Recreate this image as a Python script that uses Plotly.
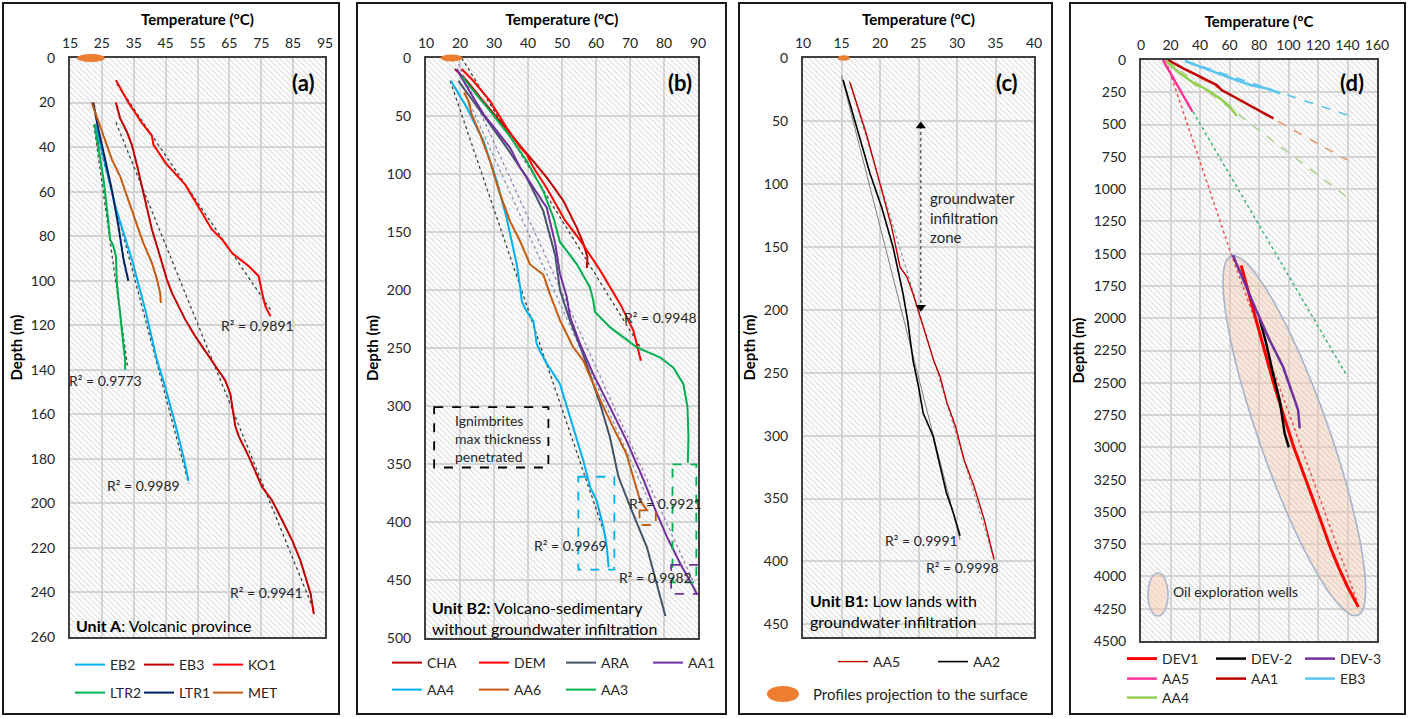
import numpy as np
import plotly.graph_objects as go

W, H = 1408, 719
FONT = "Lato"
TXT = "#262626"


def px(x):
    return x / W


def py(y):
    return 1 - y / H


# ---------------- DATA ----------------
# Panel (a) Unit A : temperature (degC) vs depth (m)
a_EB2_T = [23.0, 26.0, 29.2, 34.4, 38.6, 42.3, 44.9, 48.0, 50.6, 52.2]
a_EB2_D = [30, 48, 66.5, 90.5, 113, 135.8, 147.8, 164.3, 179, 190]
a_EB3_T = [29.4, 30.7, 32.8, 34.4, 36.0, 37.5, 39.1, 40.7, 42.3, 43.8, 45.4, 47.0, 49.0, 51.2, 54.3, 58.0,
           59.5, 63.7, 65.3, 65.8, 66.4, 66.9, 68.0, 71.1, 75.3, 78.4, 81.6, 84.7, 87.3, 88.9, 90.5, 91.5]
a_EB3_D = [20, 27, 33, 39, 48, 57, 66.5, 77, 84.5, 92, 99.5, 105.6, 111.6, 117.6, 125, 132.6,
           135.8, 144.8, 150.8, 155, 160, 165.6, 170, 179, 192.7, 198.7, 207.7, 216.6, 225.7, 233, 240.7, 249.7]
a_KO1_T = [29.4, 33.3, 37.5, 40.7, 41.2, 44.9, 51.2, 56.4, 59.5, 62.7, 65.8, 71.1, 74.2, 75.3, 76.3, 77.9]
a_KO1_D = [10, 20, 29, 35, 39, 47, 57, 69.5, 77, 81.5, 87.5, 93.5, 98, 105.6, 111.6, 116]
a_LTR2_T = [22.7, 23.9, 25.5, 26.5, 27.6, 28.6, 29.4, 29.7, 30.7, 31.8, 32.3, 32.3]
a_LTR2_D = [29.6, 41, 54.4, 66.5, 81.5, 84.5, 89, 101, 116, 129.5, 135.8, 140]
a_LTR1_T = [22.3, 23.9, 26.0, 28.1, 30.2, 31.8, 33.3]
a_LTR1_D = [20, 32, 45.4, 59, 75.5, 90.5, 100]
a_MET_T = [21.8, 25.0, 28.1, 30.7, 32.8, 35.4, 38.0, 40.7, 42.3, 43.3, 43.5]
a_MET_D = [20, 33, 45.4, 53, 62, 72.5, 83, 92, 99.5, 105.6, 110]
# linear fits (end points)
a_fit_KO1_T, a_fit_KO1_D = [29.7, 77.9], [11.6, 113]
a_fit_EB3_T, a_fit_EB3_D = [29.4, 91.5], [28.9, 248]
a_fit_EB2_T, a_fit_EB2_D = [22.9, 52.2], [31.9, 191]
a_fit_LTR2_T, a_fit_LTR2_D = [22.5, 33.0], [30, 138]
a_r2_text = ["R² = 0.9891", "R² = 0.9773", "R² = 0.9989", "R² = 0.9941"]
a_r2_T = [73.7, 26.2, 38.0, 76.5]
a_r2_D = [120, 144.8, 192, 240]
a_surface_T = 21.6

# Panel (b) Unit B2
b_CHA_T = [18.5, 22.0, 25.9, 30.8, 35.7, 41.6, 45.5, 50.4, 54.3, 56.3, 57.5, 57.3]
b_CHA_D = [9.5, 19.6, 34, 51.3, 68.6, 88.8, 103, 123, 146, 160, 172, 181]
b_DEM_T = [20.5, 23.9, 28.8, 33.7, 37.7, 39.6, 41.6, 45.5, 50.9, 55.3, 61.2, 67.1, 71.0, 73.2]
b_DEM_D = [9.5, 19.6, 37, 60, 77, 83, 94.5, 112, 140, 157, 183, 212, 235, 261]
b_ARA_T = [19.5, 23.9, 28.8, 33.7, 39.6, 44.5, 48.0, 49.4, 52.3, 55.8, 58.2, 61.2, 64.1, 66.6, 70.5, 75.0, 80.4]
b_ARA_D = [19.6, 37, 57, 77, 103, 132, 170, 200, 226, 252, 272, 298, 327, 361, 390, 422, 481]
b_AA1_T = [19.0, 21.5, 23.9, 26.9, 30.8, 34.7, 37.7, 41.6, 45.5, 48.0, 49.4, 51.4, 52.4, 55.3, 59.2, 64.1,
           69.0, 73.9, 77.5, 80.9, 84.8, 88.7, 89.7]
b_AA1_D = [9.5, 22.5, 34, 48.4, 62.8, 77.2, 94.5, 112, 129, 160, 186, 206, 223.5, 246.5, 272.5, 301,
           330, 363, 390, 413, 436, 456.5, 462]
b_AA4_T = [17.3, 22.0, 26.9, 30.8, 33.7, 36.7, 37.7, 38.2, 39.6, 41.6, 42.6, 45.0, 49.4, 53.3, 56.3, 58.3,
           60.2, 62.2, 63.2, 63.7]
b_AA4_D = [19.6, 42.7, 71.5, 106, 137.8, 178, 198, 210, 218.4, 227, 247, 261, 281, 318.6, 347.4, 370,
           381.6, 404.6, 421.9, 439]
b_AA6_T = [21.2, 22.5, 23.4, 25.9, 28.8, 31.8, 34.7, 37.7, 40.6, 44.5, 46.5, 49.4, 53.3, 56.3, 59.2, 62.2,
           65.1, 69.0, 71.0, 73.0, 75.0]
b_AA6_D = [29.7, 37, 48.4, 65.7, 88.8, 117.6, 140.6, 158, 178, 186.7, 204, 226, 249.4, 261, 281, 301,
           318.6, 341.6, 361.8, 381.6, 390]
b_AA3_T = [20.5, 23.9, 28.8, 34.2, 39.6, 44.5, 47.5, 49.4, 54.3, 58.2, 59.2, 59.7, 64.1, 72.0, 78.8, 82.7,
           85.7, 86.9, 87.2, 87.0]
b_AA3_D = [15.3, 28.2, 45.5, 65.7, 88.8, 114.7, 137.8, 158.6, 177.4, 197.6, 209, 219, 232, 249.4, 258,
           266.7, 281, 301, 327, 349]
b_fit_DEM_T, b_fit_DEM_D = [20.5, 73.6], [0, 252]
b_fit_AA4_T, b_fit_AA4_D = [17.1, 63.2], [19.6, 416]
b_fit_AA6_T, b_fit_AA6_D = [21.5, 76.5], [30, 388]
b_fit_AA1_T, b_fit_AA1_D = [19.5, 88.7], [5, 452]
b_r2_text = ["R² = 0.9948", "R² = 0.9921", "R² = 0.9969", "R² = 0.9982"]
b_r2_T = [79.0, 80.5, 52.6, 77.6]
b_r2_D = [224, 384, 420, 448]
b_surface_T = 17.5
# highlight boxes (T0, T1, D0, D1, colour)
b_boxes = [(12.4, 46.0, 301, 353, "#000000"),
           (54.8, 65.4, 361, 441, "#00B0F0"),
           (72.8, 77.6, 390, 402.6, "#C55A11"),
           (82.5, 89.5, 350.4, 452, "#00B050"),
           (82.1, 90.3, 437, 462, "#7030A0")]

# Panel (c) Unit B1
c_AA5_T = [16.1, 18.2, 20.0, 21.5, 22.6, 23.5, 24.3, 25.4, 26.5, 27.0, 27.8, 28.7, 29.8, 30.9, 32.2, 33.5, 34.8]
c_AA5_D = [19.4, 59.8, 100, 134, 166, 174, 187.5, 208.8, 230, 240.8, 253, 274, 292.6, 319, 340, 366, 398]
c_AA2_T = [15.2, 16.9, 18.7, 20.2, 21.7, 23.0, 23.6, 24.3, 25.0, 25.6, 26.9, 27.8, 28.6, 29.5, 30.4]
c_AA2_D = [17.3, 54.5, 91.8, 118.4, 150.3, 187.5, 208.8, 240.8, 261, 282, 300.5, 324, 345, 361, 379.5]
c_fit_AA2_T, c_fit_AA2_D = [15.0, 30.4], [14, 383]
c_fit_AA5_T, c_fit_AA5_D = [16.0, 34.9], [18, 400]
c_r2_text = ["R² = 0.9991", "R² = 0.9998"]
c_r2_T = [25.4, 30.7]
c_r2_D = [383, 405]
c_zone_T = [25.3, 25.3]
c_zone_D = [54, 198]
c_surface_T = 15.3

# Panel (d) deep wells
d_DEV1_T = [67.9, 73.6, 79.3, 84.9, 90.6, 96.3, 103.6, 110.3, 117.1, 122.7, 128.3, 133.9, 139.6, 147.4]
d_DEV1_D = [1590, 1835, 2067, 2299, 2531, 2737, 3000, 3206, 3412, 3593, 3773, 3928, 4070, 4237]
d_DEV2_T = [80.4, 84.9, 89.5, 94.0, 97.4, 100.2]
d_DEV2_D = [2003, 2196, 2428, 2634, 2892, 3000]
d_DEV3_T = [62.3, 70.2, 78.1, 87.2, 96.3, 104.2, 106.5, 107.6]
d_DEV3_D = [1513, 1732, 1938, 2170, 2376, 2634, 2711, 2853]
d_AA5_T = [14.8, 34.9]
d_AA5_D = [0, 400.8]
d_AA1_T = [18.4, 28.6, 40.0, 51.3, 54.7, 64.9, 76.2, 89.8]
d_AA1_D = [0, 64.6, 129, 194, 232.7, 297, 362, 452.5]
d_EB3_T = [29.8, 40.0, 51.3, 62.6, 74.0, 85.3, 94.4]
d_EB3_D = [8, 52, 103, 147, 194, 220, 258.5]
d_AA4_T = [17.3, 26.3, 37.7, 41.1, 46.8, 53.6, 60.4, 64.9]
d_AA4_D = [8, 103, 194, 207, 245.6, 297, 362, 431.7]
d_fit_EB3_T, d_fit_EB3_D = [29.8, 140], [5, 427]
d_fit_AA1_T, d_fit_AA1_D = [18.4, 140], [0, 776]
d_fit_AA4_T, d_fit_AA4_D = [17.3, 141], [0, 1073]
d_fit_AA5_T, d_fit_AA5_D = [14.8, 140], [0, 2453]
d_fit_DEV1_T, d_fit_DEV1_D = [16.8, 61.0, 146.3], [0, 1500, 4185]
# oil-well envelope: top tip, bottom tip (T, D) and half width in px
d_env_top = (61.1, 1519)
d_env_bot = (146.8, 4302)
d_env_halfwidth_px = 35

# axis set-up per panel
P = {
    "a": dict(xa="x", ya="y", dx=(70, 325), dy=(58, 637), tr=[15, 95], tdt=10, dr=[0, 260], ddt=20),
    "b": dict(xa="x2", ya="y2", dx=(426, 698), dy=(58, 638), tr=[10, 90], tdt=10, dr=[0, 500], ddt=50),
    "c": dict(xa="x3", ya="y3", dx=(803, 1034), dy=(58, 637), tr=[10, 40], tdt=5, dr=[0, 460], ddt=50),
    "d": dict(xa="x4", ya="y4", dx=(1141, 1377), dy=(60, 641), tr=[0, 160], tdt=20, dr=[0, 4500], ddt=250),
}

fig = go.Figure()

# hatched plot backgrounds
for k, p in P.items():
    t0, t1 = p["tr"]
    d0, d1 = p["dr"]
    fig.add_trace(go.Scatter(
        x=[t0, t1, t1, t0, t0], y=[d0, d0, d1, d1, d0], mode="none", fill="toself",
        fillcolor="rgba(0,0,0,0)",
        fillpattern=dict(shape="\\", fgcolor="#b0b0b0", bgcolor="rgba(0,0,0,0)", size=4, solidity=0.25),
        xaxis=p["xa"], yaxis=p["ya"], showlegend=False, hoverinfo="skip"))


def add_line(panel, T, D, name, color, width=2.0, dash="solid", legend=None, opacity=1.0):
    p = P[panel]
    kw = dict(x=T, y=D, mode="lines", name=name, opacity=opacity,
              line=dict(color=color, width=width, dash=dash),
              xaxis=p["xa"], yaxis=p["ya"], hoverinfo="skip")
    if legend:
        kw.update(showlegend=True, legend=legend)
    else:
        kw.update(showlegend=False)
    fig.add_trace(go.Scatter(**kw))


# ---- panel a
add_line("a", a_fit_KO1_T, a_fit_KO1_D, "", "#404040", 1.3, "dot")
add_line("a", a_fit_EB3_T, a_fit_EB3_D, "", "#404040", 1.3, "dot")
add_line("a", a_fit_EB2_T, a_fit_EB2_D, "", "#404040", 1.3, "dot")
add_line("a", a_fit_LTR2_T, a_fit_LTR2_D, "", "#404040", 1.3, "dot")
add_line("a", a_EB2_T, a_EB2_D, "EB2", "#00B0F0", 2, legend="legend")
add_line("a", a_EB3_T, a_EB3_D, "EB3", "#C00000", 2, legend="legend")
add_line("a", a_KO1_T, a_KO1_D, "KO1", "#FF0000", 2, legend="legend")
add_line("a", a_LTR2_T, a_LTR2_D, "LTR2", "#00B050", 2, legend="legend2")
add_line("a", a_LTR1_T, a_LTR1_D, "LTR1", "#002060", 2, legend="legend2")
add_line("a", a_MET_T, a_MET_D, "MET", "#C55A11", 2, legend="legend2")

# ---- panel b
add_line("b", b_fit_DEM_T, b_fit_DEM_D, "", "#404040", 1.3, "dot")
add_line("b", b_fit_AA4_T, b_fit_AA4_D, "", "#404040", 1.3, "dot")
add_line("b", b_fit_AA6_T, b_fit_AA6_D, "", "#8497B0", 1.3, "dot")
add_line("b", b_fit_AA1_T, b_fit_AA1_D, "", "#9E7CC1", 1.3, "dot")
add_line("b", b_CHA_T, b_CHA_D, "CHA", "#C00000", 2, legend="legend3")
add_line("b", b_DEM_T, b_DEM_D, "DEM", "#FF0000", 2, legend="legend3")
add_line("b", b_ARA_T, b_ARA_D, "ARA", "#44546A", 2, legend="legend3")
add_line("b", b_AA1_T, b_AA1_D, "AA1", "#7030A0", 2, legend="legend3")
add_line("b", b_AA4_T, b_AA4_D, "AA4", "#00B0F0", 2, legend="legend4")
add_line("b", b_AA6_T, b_AA6_D, "AA6", "#C55A11", 2, legend="legend4")
add_line("b", b_AA3_T, b_AA3_D, "AA3", "#00B050", 2, legend="legend4")

# ---- panel c
add_line("c", c_fit_AA2_T, c_fit_AA2_D, "", "#808080", 1.0)
add_line("c", c_fit_AA5_T, c_fit_AA5_D, "", "#808080", 1.0, "dot")
add_line("c", c_AA5_T, c_AA5_D, "AA5", "#C00000", 1.4, legend="legend5")
add_line("c", c_AA2_T, c_AA2_D, "AA2", "#000000", 1.6, legend="legend5")
fig.add_trace(go.Scatter(
    x=c_zone_T, y=c_zone_D, mode="lines+markers", showlegend=False, hoverinfo="skip",
    line=dict(color="#404040", width=1.2, dash="dot"),
    marker=dict(symbol=["triangle-up", "triangle-down"], size=9, color="#000000"),
    xaxis="x3", yaxis="y3"))

# ---- panel d
add_line("d", d_fit_EB3_T, d_fit_EB3_D, "", "#56C1F0", 1.5, "dash")
add_line("d", d_fit_AA1_T, d_fit_AA1_D, "", "#E8956A", 1.5, "dash")
add_line("d", d_fit_AA4_T, d_fit_AA4_D, "", "#A9D18E", 1.5, "dash")
add_line("d", d_fit_AA5_T, d_fit_AA5_D, "", "#3DB36B", 1.5, "dot")
add_line("d", d_fit_DEV1_T, d_fit_DEV1_D, "", "#F05050", 1.5, "dot")
add_line("d", d_DEV1_T, d_DEV1_D, "DEV1", "#FF0000", 3, legend="legend6")
add_line("d", d_DEV2_T, d_DEV2_D, "DEV-2", "#000000", 2.5, legend="legend6")
add_line("d", d_DEV3_T, d_DEV3_D, "DEV-3", "#7030A0", 2.5, legend="legend6")
add_line("d", d_AA5_T, d_AA5_D, "AA5", "#FF3399", 2.5, legend="legend7")
add_line("d", d_AA1_T, d_AA1_D, "AA1", "#C00000", 2.5, legend="legend7")
add_line("d", d_EB3_T, d_EB3_D, "EB3", "#5BC5F2", 2.5, legend="legend7")
add_line("d", d_AA4_T, d_AA4_D, "AA4", "#92D050", 2.5, legend="legend8")

# ---------------- AXES ----------------
layout_axes = {}
for i, (k, p) in enumerate(P.items()):
    sfx = "" if i == 0 else str(i + 1)
    title_x = "<b>Temperature (°C</b>" if k == "d" else "<b>Temperature (°C)</b>"
    layout_axes["xaxis" + sfx] = dict(
        domain=[px(p["dx"][0]), px(p["dx"][1])], range=p["tr"], dtick=p["tdt"], tick0=p["tr"][0],
        side="top", anchor=p["ya"], showgrid=True, gridcolor="#d9d9d9", gridwidth=1.6,
        showline=True, mirror=True, linecolor="#404040", linewidth=2, zeroline=False,
        ticks="outside", ticklen=2, tickcolor="rgba(0,0,0,0)", automargin=False,
        tickfont=dict(family=FONT, size=14, color=TXT),
        title=dict(text=title_x, font=dict(family=FONT, size=15, color="#000000"), standoff=5),
        fixedrange=True)
    layout_axes["yaxis" + sfx] = dict(
        domain=[py(p["dy"][1]), py(p["dy"][0])], range=[p["dr"][1], p["dr"][0]], dtick=p["ddt"],
        tick0=0, anchor=p["xa"], showgrid=True, gridcolor="#d9d9d9", gridwidth=1.6,
        showline=True, mirror=True, linecolor="#404040", linewidth=2, zeroline=False,
        ticks="outside", ticklen=10, tickcolor="rgba(0,0,0,0)", automargin=False,
        tickfont=dict(family=FONT, size=14, color=TXT),
        title=dict(text="<b>Depth (m)</b>", font=dict(family=FONT, size=15, color="#000000"), standoff=5),
        fixedrange=True)

# ---------------- LEGENDS ----------------
def leg(x, y, ew):
    return dict(orientation="h", x=px(x), y=py(y), xanchor="left", yanchor="middle",
                bgcolor="rgba(0,0,0,0)", borderwidth=0, entrywidth=ew, entrywidthmode="pixels",
                font=dict(family=FONT, size=14, color=TXT), itemclick=False, itemdoubleclick=False,
                tracegroupgap=0)


legends = {
    "legend": leg(70, 665, 24),
    "legend2": leg(70, 693, 24),
    "legend3": leg(387, 663, 42),
    "legend4": leg(387, 690, 42),
    "legend5": leg(833, 662, 55),
    "legend6": leg(1122, 659, 44),
    "legend7": leg(1122, 679, 44),
    "legend8": leg(1122, 698, 44),
}

# ---------------- SHAPES ----------------
shapes = []
for (x0, x1) in [(3, 339), (357, 726), (739, 1052), (1070, 1405)]:
    shapes.append(dict(type="rect", xref="paper", yref="paper", x0=px(x0), x1=px(x1), y0=py(714), y1=py(3),
                       line=dict(color="#1a1a1a", width=2), fillcolor="rgba(0,0,0,0)", layer="above"))
for (t0, t1, d0, d1, col) in b_boxes:
    shapes.append(dict(type="rect", xref="x2", yref="y2", x0=t0, x1=t1, y0=d0, y1=d1,
                       line=dict(color=col, width=1.8, dash="dash"), fillcolor="rgba(0,0,0,0)", layer="above"))
# surface projection ellipses
for (xa, ya, t, w, h) in [("x", "y", a_surface_T, 14, 4), ("x2", "y2", b_surface_T, 11, 3.5),
                          ("x3", "y3", c_surface_T, 6, 2.8)]:
    shapes.append(dict(type="circle", xref=xa, yref=ya + " domain", xsizemode="pixel", ysizemode="pixel",
                       xanchor=t, yanchor=1, x0=-w, x1=w, y0=-h, y1=h, fillcolor="#ED7D31",
                       line=dict(width=0), layer="above"))
# oil-well envelope ellipse (drawn in pixel space of panel d, converted to data)
pd_ = P["d"]
sx = (pd_["dx"][1] - pd_["dx"][0]) / (pd_["tr"][1] - pd_["tr"][0])
sy = (pd_["dy"][1] - pd_["dy"][0]) / (pd_["dr"][1] - pd_["dr"][0])
p_top = np.array([d_env_top[0] * sx, d_env_top[1] * sy])
p_bot = np.array([d_env_bot[0] * sx, d_env_bot[1] * sy])
cen = (p_top + p_bot) / 2
u = (p_bot - p_top) / np.linalg.norm(p_bot - p_top)
v = np.array([-u[1], u[0]])
a_len = np.linalg.norm(p_bot - p_top) / 2
tt = np.linspace(0, 2 * np.pi, 90)
pts = cen[None, :] + a_len * np.cos(tt)[:, None] * u[None, :] + d_env_halfwidth_px * np.sin(tt)[:, None] * v[None, :]
path = "M " + " L ".join(f"{q[0] / sx:.3f},{q[1] / sy:.2f}" for q in pts) + " Z"
shapes.append(dict(type="path", path=path, xref="x4", yref="y4", fillcolor="rgba(248,203,173,0.45)",
                   line=dict(color="#A5B4D0", width=1.6), layer="between"))
# small legend ellipse in panel d
shapes.append(dict(type="circle", xref="paper", yref="paper", x0=px(1148), x1=px(1168), y0=py(616), y1=py(573),
                   fillcolor="rgba(248,203,173,0.55)", line=dict(color="#A5B4D0", width=1.5), layer="above"))
# legend ellipse for surface projection
shapes.append(dict(type="circle", xref="paper", yref="paper", x0=px(767), x1=px(799), y0=py(702), y1=py(686),
                   fillcolor="#ED7D31", line=dict(width=0), layer="above"))

# ---------------- ANNOTATIONS ----------------
ann = []


def txt(text, x, y, xref, yref, size=14, xanchor="center", yanchor="middle", align="center", color=TXT):
    ann.append(dict(text=text, x=x, y=y, xref=xref, yref=yref, showarrow=False, xanchor=xanchor,
                    yanchor=yanchor, align=align, font=dict(family=FONT, size=size, color=color)))


for s, t, d in zip(a_r2_text, a_r2_T, a_r2_D):
    txt(s, t, d, "x", "y")
for s, t, d in zip(b_r2_text, b_r2_T, b_r2_D):
    txt(s, t, d, "x2", "y2")
for s, t, d in zip(c_r2_text, c_r2_T, c_r2_D):
    txt(s, t, d, "x3", "y3")
txt("Ignimbrites<br>max thickness<br>penetrated", 18.0, 328, "x2", "y2", xanchor="left", align="left")
txt("groundwater<br>infiltration<br>zone", 26.2, 127, "x3", "y3", size=15, xanchor="left", align="left")
txt("Oil exploration wells", 20, 4120, "x4", "y4", xanchor="left", align="left")

for lab, x in [("(a)", 303), ("(b)", 680), ("(c)", 1007), ("(d)", 1352)]:
    txt("<b>" + lab + "</b>", px(x), py(82), "paper", "paper", size=22, color="#000000")

txt("<b>Unit A</b>: Volcanic province", px(74), py(625), "paper", "paper", size=16, xanchor="left", align="left",
    color="#000000")
txt("<b>Unit B2:</b> Volcano-sedimentary<br>without groundwater infiltration", px(430), py(618), "paper", "paper",
    size=16, xanchor="left", align="left", color="#000000")
txt("<b>Unit B1:</b> Low lands with<br>groundwater infiltration", px(808), py(611), "paper", "paper",
    size=16, xanchor="left", align="left", color="#000000")
txt("Profiles projection to the surface", px(811), py(694), "paper", "paper", size=15, xanchor="left",
    align="left")

fig.update_layout(
    width=W, height=H, margin=dict(l=0, r=0, t=0, b=0, autoexpand=False), paper_bgcolor="white",
    plot_bgcolor="white",
    font=dict(family=FONT, color=TXT), shapes=shapes, annotations=ann, hovermode=False,
    **layout_axes, **legends)

fig.write_html("out.html", config={"displayModeBar": False, "staticPlot": False},
               post_script="document.body.style.margin='0px';document.body.style.overflow='hidden';")
